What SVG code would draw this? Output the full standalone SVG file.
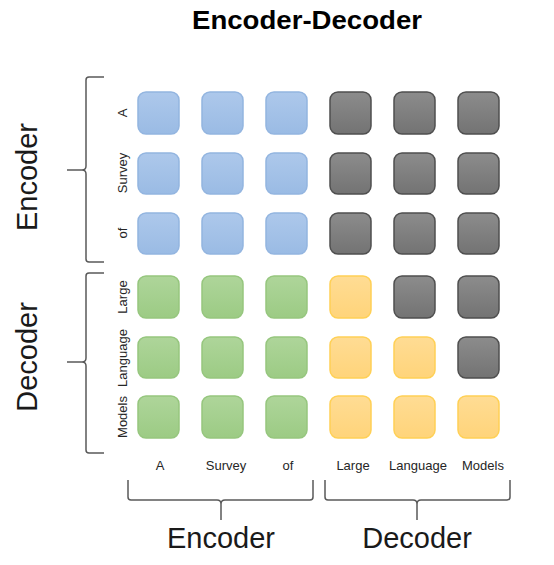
<svg xmlns="http://www.w3.org/2000/svg" width="554" height="565" viewBox="0 0 554 565">
<defs>
<linearGradient id="gb" x1="0" y1="0" x2="0" y2="1"><stop offset="0" stop-color="#adc8eb"/><stop offset="1" stop-color="#9abbe4"/></linearGradient>
<linearGradient id="gg" x1="0" y1="0" x2="0" y2="1"><stop offset="0" stop-color="#aed59a"/><stop offset="1" stop-color="#9ccb84"/></linearGradient>
<linearGradient id="gy" x1="0" y1="0" x2="0" y2="1"><stop offset="0" stop-color="#ffdc94"/><stop offset="1" stop-color="#ffd47a"/></linearGradient>
<linearGradient id="gd" x1="0" y1="0" x2="0" y2="1"><stop offset="0" stop-color="#8c8c8c"/><stop offset="1" stop-color="#737373"/></linearGradient>
<style>
.sq{stroke-width:1.5}
.b{fill:url(#gb);stroke:#93b5e0}
.g{fill:url(#gg);stroke:#96c67e}
.y{fill:url(#gy);stroke:#ffd055}
.d{fill:url(#gd);stroke:#4f4f4f}
.lbl{font-family:"Liberation Sans",Arial,sans-serif;font-size:13px;fill:#262626;text-anchor:middle}
.big{font-family:"Liberation Sans",Arial,sans-serif;font-size:29px;fill:#1a1a1a;text-anchor:middle}
.ttl{font-family:"Liberation Sans",Arial,sans-serif;font-size:25px;font-weight:bold;fill:#000;text-anchor:middle}
.br{fill:none;stroke:#595959;stroke-width:1.5}
</style>
</defs>
<rect width="554" height="565" fill="#fff"/>
<g id="title"><text class="ttl" x="307" y="29" textLength="230" lengthAdjust="spacingAndGlyphs">Encoder-Decoder</text></g>

<g id="connectors">
<path class="br" d="M104,77 H89 Q86,77 86,80 V166 Q86,170 82,170 H67 M82,170 Q86,170 86,174 V259 Q86,262 89,262 H104"/>
<path class="br" d="M104,273 H89 Q86,273 86,276 V358 Q86,362 82,362 H67 M82,362 Q86,362 86,366 V450 Q86,453 89,453 H104"/>
<path class="br" d="M128,480 V497 Q128,500 131,500 H217 Q221,500 221,504 V520 M221,504 Q221,500 225,500 H310 Q313,500 313,497 V480"/>
<path class="br" d="M325,480 V497 Q325,500 328,500 H413 Q417,500 417,504 V520 M417,504 Q417,500 421,500 H507 Q510,500 510,497 V480"/>
</g>

<g id="side-labels">
<text class="big" transform="translate(37,177) rotate(-90)">Encoder</text>
<text class="big" transform="translate(37,357) rotate(-90)">Decoder</text>
<text class="big" x="221" y="548">Encoder</text>
<text class="big" x="417" y="548">Decoder</text>
</g>

<g id="row-labels">
<text class="lbl" transform="translate(127,113) rotate(-90)">A</text>
<text class="lbl" transform="translate(127,173) rotate(-90)">Survey</text>
<text class="lbl" transform="translate(127,233) rotate(-90)">of</text>
<text class="lbl" transform="translate(127,297) rotate(-90)">Large</text>
<text class="lbl" transform="translate(127,358) rotate(-90)">Language</text>
<text class="lbl" transform="translate(127,417) rotate(-90)">Models</text>
</g>
<g id="col-labels">
<text class="lbl" x="160" y="470">A</text>
<text class="lbl" x="226" y="470">Survey</text>
<text class="lbl" x="288" y="470">of</text>
<text class="lbl" x="353" y="470">Large</text>
<text class="lbl" x="418" y="470">Language</text>
<text class="lbl" x="483" y="470">Models</text>
</g>

<g id="row1">
<rect class="sq b" x="138" y="92" width="41" height="42" rx="8"/>
<rect class="sq b" x="202" y="92" width="41" height="42" rx="8"/>
<rect class="sq b" x="266" y="92" width="41" height="42" rx="8"/>
<rect class="sq d" x="330" y="92" width="41" height="42" rx="8"/>
<rect class="sq d" x="394" y="92" width="41" height="42" rx="8"/>
<rect class="sq d" x="458" y="92" width="41" height="42" rx="8"/>
</g>
<g id="row2">
<rect class="sq b" x="138" y="153" width="41" height="41" rx="8"/>
<rect class="sq b" x="202" y="153" width="41" height="41" rx="8"/>
<rect class="sq b" x="266" y="153" width="41" height="41" rx="8"/>
<rect class="sq d" x="330" y="153" width="41" height="41" rx="8"/>
<rect class="sq d" x="394" y="153" width="41" height="41" rx="8"/>
<rect class="sq d" x="458" y="153" width="41" height="41" rx="8"/>
</g>
<g id="row3">
<rect class="sq b" x="138" y="213" width="41" height="41" rx="8"/>
<rect class="sq b" x="202" y="213" width="41" height="41" rx="8"/>
<rect class="sq b" x="266" y="213" width="41" height="41" rx="8"/>
<rect class="sq d" x="330" y="213" width="41" height="41" rx="8"/>
<rect class="sq d" x="394" y="213" width="41" height="41" rx="8"/>
<rect class="sq d" x="458" y="213" width="41" height="41" rx="8"/>
</g>
<g id="row4">
<rect class="sq g" x="138" y="276" width="41" height="42" rx="8"/>
<rect class="sq g" x="202" y="276" width="41" height="42" rx="8"/>
<rect class="sq g" x="266" y="276" width="41" height="42" rx="8"/>
<rect class="sq y" x="330" y="276" width="41" height="42" rx="8"/>
<rect class="sq d" x="394" y="276" width="41" height="42" rx="8"/>
<rect class="sq d" x="458" y="276" width="41" height="42" rx="8"/>
</g>
<g id="row5">
<rect class="sq g" x="138" y="337" width="41" height="41" rx="8"/>
<rect class="sq g" x="202" y="337" width="41" height="41" rx="8"/>
<rect class="sq g" x="266" y="337" width="41" height="41" rx="8"/>
<rect class="sq y" x="330" y="337" width="41" height="41" rx="8"/>
<rect class="sq y" x="394" y="337" width="41" height="41" rx="8"/>
<rect class="sq d" x="458" y="337" width="41" height="41" rx="8"/>
</g>
<g id="row6">
<rect class="sq g" x="138" y="396" width="41" height="42" rx="8"/>
<rect class="sq g" x="202" y="396" width="41" height="42" rx="8"/>
<rect class="sq g" x="266" y="396" width="41" height="42" rx="8"/>
<rect class="sq y" x="330" y="396" width="41" height="42" rx="8"/>
<rect class="sq y" x="394" y="396" width="41" height="42" rx="8"/>
<rect class="sq y" x="458" y="396" width="41" height="42" rx="8"/>
</g>
</svg>
